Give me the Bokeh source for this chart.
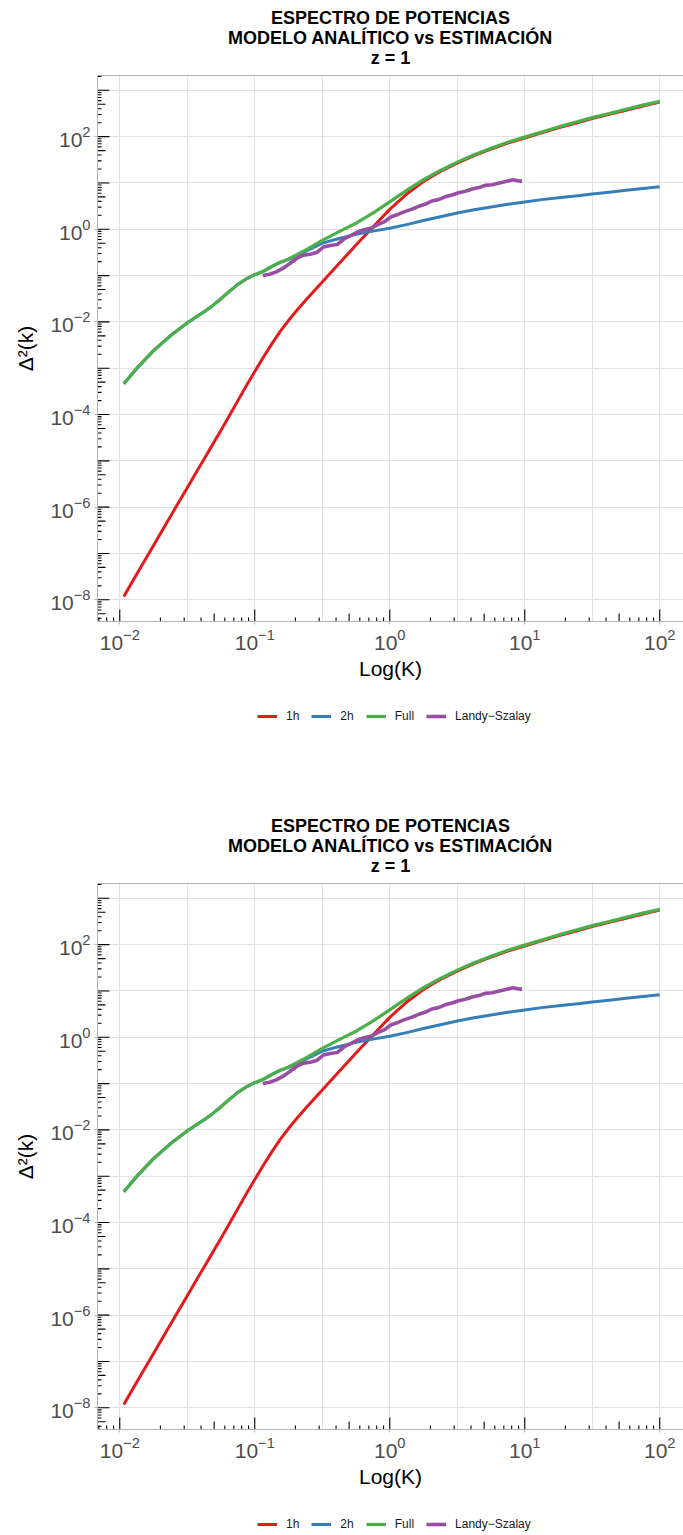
import math
from bokeh.plotting import figure
from bokeh.models import Range1d, FixedTicker, LogAxis, Legend, LegendItem, Label
from bokeh.layouts import column
from bokeh.embed import file_html
from bokeh.resources import INLINE

# ---------------- data (log10 values) ----------------
log_k_model = [-1.97, -1.875, -1.75, -1.625, -1.5, -1.4375, -1.375, -1.3125, -1.25,
               -1.1875, -1.125, -1.0625, -1.0, -0.9375, -0.875, -0.8125, -0.75,
               -0.6875, -0.625, -0.5625, -0.5, -0.375, -0.25, -0.125, 0.0, 0.125,
               0.25, 0.375, 0.5, 0.625, 0.75, 0.875, 1.0, 1.125, 1.25, 1.375, 1.5,
               1.625, 1.75, 1.875, 2.0]

log_1h = [-7.93, -7.45, -6.83, -6.20, -5.58, -5.27, -4.96, -4.65, -4.34,
          -4.02, -3.70, -3.38, -3.07, -2.77, -2.48, -2.21, -1.97,
          -1.75, -1.54, -1.34, -1.14, -0.74, -0.34, 0.05, 0.43, 0.76,
          1.03, 1.25, 1.43, 1.59, 1.73, 1.86, 1.97, 2.08, 2.19, 2.29, 2.39,
          2.48, 2.57, 2.66, 2.745]

log_2h = [-3.34, -3.01, -2.62, -2.30, -2.02, -1.90, -1.78, -1.65, -1.50,
          -1.34, -1.19, -1.07, -0.98, -0.91, -0.81, -0.72, -0.65,
          -0.57, -0.48, -0.39, -0.30, -0.20, -0.11, -0.04, 0.02, 0.10,
          0.19, 0.27, 0.35, 0.42, 0.48, 0.54, 0.59, 0.64, 0.68, 0.72, 0.76,
          0.80, 0.84, 0.88, 0.92]

log_full = [-3.33, -3.00, -2.62, -2.30, -2.02, -1.90, -1.78, -1.65, -1.50,
            -1.34, -1.19, -1.07, -0.98, -0.91, -0.80, -0.71, -0.64,
            -0.55, -0.45, -0.35, -0.24, -0.05, 0.13, 0.35, 0.59, 0.84,
            1.07, 1.27, 1.45, 1.61, 1.75, 1.88, 1.99, 2.10, 2.21, 2.31, 2.41,
            2.50, 2.59, 2.68, 2.76]

log_k_ls = [-0.94, -0.89, -0.84, -0.79, -0.74, -0.69, -0.64, -0.59, -0.54, -0.49,
            -0.44, -0.39, -0.34, -0.29, -0.24, -0.19, -0.14, -0.09, -0.04, 0.01,
            0.06, 0.11, 0.16, 0.21, 0.26, 0.31, 0.36, 0.41, 0.46, 0.51,
            0.56, 0.61, 0.66, 0.71, 0.76, 0.81, 0.86, 0.91, 0.96, 0.98]
log_ls = [-1.00, -0.97, -0.92, -0.84, -0.74, -0.63, -0.56, -0.54, -0.50, -0.38,
          -0.35, -0.33, -0.21, -0.14, -0.06, -0.01, 0.02, 0.10, 0.16, 0.27,
          0.32, 0.38, 0.43, 0.49, 0.54, 0.61, 0.64, 0.70, 0.74, 0.79,
          0.82, 0.87, 0.90, 0.95, 0.96, 1.00, 1.03, 1.07, 1.04, 1.04]

series_labels = ["1h", "2h", "Full", "Landy\u2212Szalay"]
series_colors = ["#E41A1C", "#377EB8", "#4DAF4A", "#984EA3"]
series_widths = [3, 3, 3.2, 3.6]

title_lines = ["ESPECTRO DE POTENCIAS", "MODELO ANAL\u00cdTICO vs ESTIMACI\u00d3N", "z = 1"]
x_label = "Log(K)"
y_label = "\u0394\u00b2(k)"

x_major_exp = [-2, -1, 0, 1, 2]
x_grid_exp = [-2, -1.5, -1, -0.5, 0, 0.5, 1, 1.5, 2]
y_major_exp = [-8, -6, -4, -2, 0, 2]
y_grid_exp = [-8, -7, -6, -5, -4, -3, -2, -1, 0, 1, 2, 3]

# ---------------- layout constants ----------------
X0, X1 = -2.165, 2.176
Y0, Y1 = -8.469, 3.32
FRAME_W, FRAME_H = 586, 546
TITLE_H = 70                              # title strip above each panel
TOP, LEFT, BOTTOM = 5, 97, 80
MAIN_H = TOP + FRAME_H + BOTTOM           # 631
TITLE_CENTERS_FROM_TOP = [17, 37, 57]
GRID = "#E0E0E0"
BORDER = "#B3B3B3"
FONT = "Liberation Sans"


def series():
    km = [10 ** v for v in log_k_model]
    kl = [10 ** v for v in log_k_ls]
    xs = [km, km, km, kl]
    ys = [[10 ** v for v in s] for s in (log_1h, log_2h, log_full, log_ls)]
    return xs, ys


def strip(height):
    q = figure(width=683, height=height, x_range=Range1d(1e3, 1e4), y_range=Range1d(1e4, 1e5),
               output_backend="svg", toolbar_location=None, title=None,
               x_axis_location=None, y_axis_location=None,
               min_border_left=0, min_border_right=0, min_border_top=0, min_border_bottom=0,
               background_fill_color="white", border_fill_color="white")
    q.outline_line_color = None
    q.xgrid.visible = False
    q.ygrid.visible = False
    return q


def make_title():
    q = strip(TITLE_H)
    for line, yc in zip(title_lines, TITLE_CENTERS_FROM_TOP):
        q.add_layout(Label(x=FRAME_W / 2, y=TITLE_H - yc, x_units="screen", y_units="screen",
                           text=line, text_align="center", text_baseline="middle",
                           text_font=FONT, text_font_size="18px", text_font_style="bold",
                           text_color="black"))
    return q


def make_main():
    p = figure(frame_width=FRAME_W, frame_height=FRAME_H,
               x_axis_type="log", y_axis_type="log",
               x_range=Range1d(10 ** X0, 10 ** X1), y_range=Range1d(10 ** Y0, 10 ** Y1),
               output_backend="svg", toolbar_location=None, title=None,
               min_border_left=LEFT, min_border_right=0, min_border_top=TOP,
               min_border_bottom=BOTTOM, background_fill_color="white",
               border_fill_color="white")
    p.outline_line_color = None

    p.xaxis.ticker = FixedTicker(ticks=[10.0 ** e for e in x_major_exp], minor_ticks=[])
    p.yaxis.ticker = FixedTicker(ticks=[10.0 ** e for e in y_major_exp], minor_ticks=[])
    p.xgrid.ticker = FixedTicker(ticks=[10.0 ** e for e in x_grid_exp], minor_ticks=[])
    p.ygrid.ticker = FixedTicker(ticks=[10.0 ** e for e in y_grid_exp], minor_ticks=[])
    p.xgrid.grid_line_color = GRID
    p.ygrid.grid_line_color = GRID
    p.xgrid.grid_line_width = 1
    p.ygrid.grid_line_width = 1

    for ax in (p.xaxis, p.yaxis):
        ax.axis_line_color = BORDER
        ax.axis_line_width = 1
        ax.major_tick_line_color = BORDER
        ax.major_tick_out = 3
        ax.major_tick_in = 0
        ax.minor_tick_out = 0
        ax.minor_tick_in = 0
        ax.major_label_text_color = "#4D4D4D"
        ax.major_label_text_font = FONT
        ax.major_label_text_font_size = "21px"
        ax.major_label_standoff = 4
        ax.axis_label_text_font = FONT
        ax.axis_label_text_font_size = "21px"
        ax.axis_label_text_font_style = "normal"
        ax.axis_label_text_color = "black"
    p.xaxis.axis_label = x_label
    p.yaxis.axis_label = y_label
    p.xaxis.axis_label_standoff = 4
    p.yaxis.axis_label_standoff = 10

    top_axis = LogAxis(ticker=FixedTicker(ticks=[], minor_ticks=[]),
                       axis_line_color=BORDER, major_tick_out=0, major_tick_in=0,
                       minor_tick_out=0, minor_tick_in=0,
                       major_label_text_font_size="0px", major_label_standoff=0)
    p.add_layout(top_axis, "above")

    # log ticks (annotation_logticks style) on bottom and left, inside the panel
    xpp = (X1 - X0) / FRAME_W
    ypp = (Y1 - Y0) / FRAME_H
    bx, by0, by1 = [], [], []
    for d in range(-3, 3):
        for m in range(1, 10):
            lv = d + math.log10(m)
            if X0 <= lv <= X1:
                L = 12 if m == 1 else (8 if m == 5 else 4)
                bx.append(10 ** lv)
                by0.append(10 ** Y0)
                by1.append(10 ** (Y0 + L * ypp))
    p.segment(x0=bx, y0=by0, x1=bx, y1=by1, line_color="black", line_width=1.1)
    ly, lx0, lx1 = [], [], []
    for d in range(-9, 4):
        for m in range(1, 10):
            lv = d + math.log10(m)
            if Y0 <= lv <= Y1:
                L = 12 if m == 1 else (8 if m == 5 else 4)
                ly.append(10 ** lv)
                lx0.append(10 ** X0)
                lx1.append(10 ** (X0 + L * xpp))
    p.segment(x0=lx0, y0=ly, x1=lx1, y1=ly, line_color="black", line_width=1.1)

    xs, ys = series()
    for x, y, c, w in zip(xs, ys, series_colors, series_widths):
        p.line(x, y, line_color=c, line_width=w)
    return p


def make_legend(height, legend_bottom):
    # a strip below the panel; its view range lies beyond the data, so only the
    # legend (built from the same series renderers) is visible
    q = strip(height)
    xs, ys = series()
    items = []
    for lab, x, y, c, w in zip(series_labels, xs, ys, series_colors, series_widths):
        r = q.line(x, y, line_color=c, line_width=w)
        items.append(LegendItem(label=lab, renderers=[r]))
    legend = Legend(items=items, orientation="horizontal",
                    location=(160, legend_bottom),
                    border_line_color=None, background_fill_alpha=0,
                    label_text_font=FONT, label_text_font_size="12px",
                    label_text_color="#1A1A1A",
                    glyph_width=20, glyph_height=14, label_standoff=9,
                    label_width=0, label_height=14, spacing=12, padding=0, margin=0)
    q.add_layout(legend, "center")
    return q


leg1_h = 808 - TITLE_H - MAIN_H
leg2_h = 727 - TITLE_H - MAIN_H
layout = column(make_title(), make_main(), make_legend(leg1_h, leg1_h - 22),
                make_title(), make_main(), make_legend(leg2_h, leg2_h - 22), spacing=0)
open("out.html", "w").write(file_html(layout, INLINE))
